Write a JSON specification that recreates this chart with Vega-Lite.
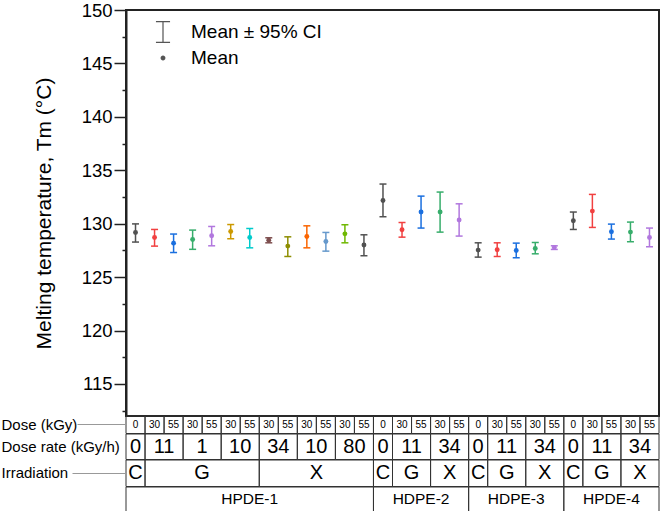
{
  "$schema": "https://vega.github.io/schema/vega-lite/v6.json",
  "padding": {"left": 1, "top": 0, "right": 0, "bottom": 0},
  "spacing": 0,
  "bounds": "flush",
  "config": {
    "font": "Liberation Sans",
    "view": {"stroke": null},
    "concat": {"spacing": 0},
    "axis": {"labelFont": "Liberation Sans", "titleFont": "Liberation Sans", "grid": false}
  },
  "datasets": {
    "pts": [
      {"slot": 1, "grp": "HPDE-1", "irr": "C", "rate": "0", "dose": "0", "k": 1, "m": 129.18, "lo": 128.28, "hi": 129.98},
      {"slot": 2, "grp": "HPDE-1", "irr": "G", "rate": "11", "dose": "30", "k": 2, "m": 128.71, "lo": 127.9, "hi": 129.46},
      {"slot": 3, "grp": "HPDE-1", "irr": "G", "rate": "11", "dose": "55", "k": 3, "m": 128.18, "lo": 127.3, "hi": 129.03},
      {"slot": 4, "grp": "HPDE-1", "irr": "G", "rate": "1", "dose": "30", "k": 4, "m": 128.52, "lo": 127.6, "hi": 129.4},
      {"slot": 5, "grp": "HPDE-1", "irr": "G", "rate": "1", "dose": "55", "k": 5, "m": 128.87, "lo": 127.93, "hi": 129.74},
      {"slot": 6, "grp": "HPDE-1", "irr": "G", "rate": "10", "dose": "30", "k": 6, "m": 129.27, "lo": 128.59, "hi": 129.92},
      {"slot": 7, "grp": "HPDE-1", "irr": "G", "rate": "10", "dose": "55", "k": 7, "m": 128.71, "lo": 127.74, "hi": 129.55},
      {"slot": 8, "grp": "HPDE-1", "irr": "X", "rate": "34", "dose": "30", "k": 8, "m": 128.46, "lo": 128.21, "hi": 128.68},
      {"slot": 9, "grp": "HPDE-1", "irr": "X", "rate": "34", "dose": "55", "k": 9, "m": 127.9, "lo": 126.93, "hi": 128.77},
      {"slot": 10, "grp": "HPDE-1", "irr": "X", "rate": "10", "dose": "30", "k": 10, "m": 128.8, "lo": 127.74, "hi": 129.8},
      {"slot": 11, "grp": "HPDE-1", "irr": "X", "rate": "10", "dose": "55", "k": 11, "m": 128.33, "lo": 127.43, "hi": 129.18},
      {"slot": 12, "grp": "HPDE-1", "irr": "X", "rate": "80", "dose": "30", "k": 12, "m": 129.05, "lo": 128.21, "hi": 129.9},
      {"slot": 13, "grp": "HPDE-1", "irr": "X", "rate": "80", "dose": "55", "k": 1, "m": 128.0, "lo": 127.0, "hi": 128.96},
      {"slot": 14, "grp": "HDPE-2", "irr": "C", "rate": "0", "dose": "0", "k": 1, "m": 132.17, "lo": 130.65, "hi": 133.71},
      {"slot": 15, "grp": "HDPE-2", "irr": "G", "rate": "11", "dose": "30", "k": 2, "m": 129.43, "lo": 128.74, "hi": 130.11},
      {"slot": 16, "grp": "HDPE-2", "irr": "G", "rate": "11", "dose": "55", "k": 3, "m": 131.09, "lo": 129.59, "hi": 132.58},
      {"slot": 17, "grp": "HDPE-2", "irr": "X", "rate": "34", "dose": "30", "k": 4, "m": 131.09, "lo": 129.21, "hi": 132.96},
      {"slot": 18, "grp": "HDPE-2", "irr": "X", "rate": "34", "dose": "55", "k": 5, "m": 130.34, "lo": 128.84, "hi": 131.86},
      {"slot": 19, "grp": "HDPE-3", "irr": "C", "rate": "0", "dose": "0", "k": 1, "m": 127.53, "lo": 126.87, "hi": 128.21},
      {"slot": 20, "grp": "HDPE-3", "irr": "G", "rate": "11", "dose": "30", "k": 2, "m": 127.56, "lo": 126.93, "hi": 128.21},
      {"slot": 21, "grp": "HDPE-3", "irr": "G", "rate": "11", "dose": "55", "k": 3, "m": 127.49, "lo": 126.81, "hi": 128.18},
      {"slot": 22, "grp": "HDPE-3", "irr": "X", "rate": "34", "dose": "30", "k": 4, "m": 127.68, "lo": 127.18, "hi": 128.24},
      {"slot": 23, "grp": "HDPE-3", "irr": "X", "rate": "34", "dose": "55", "k": 5, "m": 127.77, "lo": 127.59, "hi": 127.93},
      {"slot": 24, "grp": "HPDE-4", "irr": "C", "rate": "0", "dose": "0", "k": 1, "m": 130.27, "lo": 129.46, "hi": 131.09},
      {"slot": 25, "grp": "HPDE-4", "irr": "G", "rate": "11", "dose": "30", "k": 2, "m": 131.18, "lo": 129.65, "hi": 132.74},
      {"slot": 26, "grp": "HPDE-4", "irr": "G", "rate": "11", "dose": "55", "k": 3, "m": 129.24, "lo": 128.56, "hi": 129.96},
      {"slot": 27, "grp": "HPDE-4", "irr": "X", "rate": "34", "dose": "30", "k": 4, "m": 129.21, "lo": 128.31, "hi": 130.15},
      {"slot": 28, "grp": "HPDE-4", "irr": "X", "rate": "34", "dose": "55", "k": 5, "m": 128.71, "lo": 127.84, "hi": 129.59}
    ]
  },
  "vconcat": [
    {
      "width": 533,
      "height": 406,
      "view": {"stroke": "#222", "strokeWidth": 2},
      "data": {"name": "pts"},
      "resolve": {"axis": {"y": "independent"}},
      "layer": [
        {
          "mark": {"type": "rule", "strokeWidth": 1.5},
          "encoding": {
            "x": {"field": "slot", "type": "quantitative", "scale": {"domain": [0.5, 28.5], "nice": false, "zero": false}, "axis": null},
            "y": {"field": "lo", "type": "quantitative", "scale": {"domain": [112, 150], "nice": false, "zero": false},
              "axis": {"orient": "left", "values": [115, 120, 125, 130, 135, 140, 145, 150], "title": "Melting temperature, Tm (°C)",
                "domainColor": "#222", "domainWidth": 2, "tickColor": "#222", "tickWidth": 1.5, "tickSize": 12, "labelPadding": 2,
                "labelFontSize": 18.5, "labelColor": "#000", "titleFontSize": 21, "titleFontWeight": "normal", "titleColor": "#000", "titlePadding": 27}},
            "y2": {"field": "hi"},
            "color": {"field": "k", "type": "nominal", "scale": {"domain": [1, 2, 3, 4, 5, 6, 7, 8, 9, 10, 11, 12], "range": ["#515151", "#F14040", "#1A6FDF", "#37AD6B", "#B177DE", "#CC9900", "#00CBCC", "#7D4E4E", "#8E8E00", "#FB6501", "#6699CC", "#6FB802"]}, "legend": null}
          }
        },
        {
          "mark": {"type": "tick", "orient": "horizontal", "size": 7, "thickness": 1.5, "opacity": 1},
          "encoding": {
            "x": {"field": "slot", "type": "quantitative"},
            "y": {"field": "lo", "type": "quantitative",
              "axis": {"orient": "left", "values": [112.5, 117.5, 122.5, 127.5, 132.5, 137.5, 142.5, 147.5], "labels": false, "domain": false, "tickColor": "#222", "tickWidth": 1.5, "tickSize": 4, "title": null}},
            "color": {"field": "k", "type": "nominal", "legend": null}
          }
        },
        {
          "mark": {"type": "tick", "orient": "horizontal", "size": 7, "thickness": 1.5, "opacity": 1},
          "encoding": {
            "x": {"field": "slot", "type": "quantitative"},
            "y": {"field": "hi", "type": "quantitative", "axis": null},
            "color": {"field": "k", "type": "nominal", "legend": null}
          }
        },
        {
          "mark": {"type": "circle", "size": 24, "opacity": 1},
          "encoding": {
            "x": {"field": "slot", "type": "quantitative"},
            "y": {"field": "m", "type": "quantitative", "axis": null},
            "color": {"field": "k", "type": "nominal", "legend": null}
          }
        },
        {
          "data": {"values": [{"item": "Mean ± 95% CI"}, {"item": "Mean"}]},
          "mark": {"type": "point", "filled": true, "color": "#555"},
          "encoding": {
            "x": {"field": "slot", "type": "quantitative"},
            "shape": {"field": "item", "type": "nominal",
              "scale": {"domain": ["Mean ± 95% CI", "Mean"], "range": [
                "M-0.64,-1H0.64V-0.88H-0.64ZM-0.055,-0.88H0.055V0.88H-0.055ZM-0.64,0.88H0.64V1H-0.64Z",
                "M-0.22,0A0.22,0.22,0,1,1,0.22,0A0.22,0.22,0,1,1,-0.22,0Z"]},
              "legend": {"orient": "none", "legendX": 26, "legendY": 11, "title": null, "padding": 0, "symbolSize": 484, "symbolStrokeWidth": 0,
                "symbolFillColor": "#555", "symbolStrokeColor": "#555", "symbolOpacity": 1, "labelFontSize": 19, "labelColor": "#000", "labelOffset": 17, "rowPadding": 4, "labelLimit": 300}}
          }
        }
      ]
    },
    {
      "width": 533,
      "height": 17.5,
      "data": {"name": "pts"},
      "transform": [{"bin": {"step": 1, "extent": [0.5, 28.5], "nice": false}, "field": "slot", "as": ["s0", "s1"]}],
      "layer": [
        {
          "mark": {"type": "rect", "filled": false, "color": "#333", "strokeWidth": 1},
          "encoding": {
            "x": {"field": "s0", "type": "quantitative", "scale": {"domain": [0.5, 28.5], "nice": false, "zero": false}, "axis": null},
            "x2": {"field": "s1"},
            "y": {"datum": "Dose (kGy)", "type": "nominal", "scale": {"paddingInner": 0, "paddingOuter": 0},
              "axis": {"title": null, "domain": false, "tickSize": 49, "tickColor": "#999", "tickWidth": 1, "labelPadding": 76, "labelAlign": "left", "labelBaseline": "middle", "labelFontSize": 15, "labelColor": "#000", "bandPosition": 0.5}}
          }
        },
        {
          "mark": {"type": "text", "fontSize": 10, "color": "#000"},
          "encoding": {
            "x": {"field": "slot", "type": "quantitative"},
            "y": {"datum": "Dose (kGy)", "type": "nominal"},
            "text": {"field": "dose"}
          }
        }
      ]
    },
    {
      "width": 533,
      "height": 25.5,
      "data": {"name": "pts"},
      "transform": [
        {"bin": {"step": 1, "extent": [0.5, 28.5], "nice": false}, "field": "slot", "as": ["s0", "s1"]},
        {"aggregate": [{"op": "min", "field": "s0", "as": "a"}, {"op": "max", "field": "s1", "as": "b"}, {"op": "mean", "field": "slot", "as": "c"}], "groupby": ["grp", "irr", "rate"]}
      ],
      "layer": [
        {
          "mark": {"type": "rect", "filled": false, "color": "#333", "strokeWidth": 1},
          "encoding": {
            "x": {"field": "a", "type": "quantitative", "scale": {"domain": [0.5, 28.5], "nice": false, "zero": false}, "axis": null},
            "x2": {"field": "b"},
            "y": {"datum": "Dose rate (kGy/h)", "type": "nominal", "scale": {"paddingInner": 0, "paddingOuter": 0},
              "axis": {"title": null, "domain": false, "tickSize": 49, "tickColor": "transparent", "tickWidth": 1, "labelPadding": 76, "labelAlign": "left", "labelBaseline": "middle", "labelFontSize": 15, "labelColor": "#000", "bandPosition": 0.5}}
          }
        },
        {
          "mark": {"type": "text", "fontSize": 20, "color": "#000"},
          "encoding": {
            "x": {"field": "c", "type": "quantitative"},
            "y": {"datum": "Dose rate (kGy/h)", "type": "nominal"},
            "text": {"field": "rate"}
          }
        }
      ]
    },
    {
      "width": 533,
      "height": 26.5,
      "data": {"name": "pts"},
      "transform": [
        {"bin": {"step": 1, "extent": [0.5, 28.5], "nice": false}, "field": "slot", "as": ["s0", "s1"]},
        {"aggregate": [{"op": "min", "field": "s0", "as": "a"}, {"op": "max", "field": "s1", "as": "b"}, {"op": "mean", "field": "slot", "as": "c"}], "groupby": ["grp", "irr"]}
      ],
      "layer": [
        {
          "mark": {"type": "rect", "filled": false, "color": "#333", "strokeWidth": 1},
          "encoding": {
            "x": {"field": "a", "type": "quantitative", "scale": {"domain": [0.5, 28.5], "nice": false, "zero": false}, "axis": null},
            "x2": {"field": "b"},
            "y": {"datum": "Irradiation", "type": "nominal", "scale": {"paddingInner": 0, "paddingOuter": 0},
              "axis": {"title": null, "domain": false, "tickSize": 54, "tickColor": "#999", "tickWidth": 1, "labelPadding": 71, "labelAlign": "left", "labelBaseline": "middle", "labelFontSize": 15, "labelColor": "#000", "bandPosition": 0.5}}
          }
        },
        {
          "mark": {"type": "text", "fontSize": 20, "color": "#000"},
          "encoding": {
            "x": {"field": "c", "type": "quantitative"},
            "y": {"datum": "Irradiation", "type": "nominal"},
            "text": {"field": "irr"}
          }
        }
      ]
    },
    {
      "width": 533,
      "height": 24.5,
      "data": {"name": "pts"},
      "transform": [
        {"bin": {"step": 1, "extent": [0.5, 28.5], "nice": false}, "field": "slot", "as": ["s0", "s1"]},
        {"aggregate": [{"op": "min", "field": "s0", "as": "a"}, {"op": "max", "field": "s1", "as": "b"}, {"op": "mean", "field": "slot", "as": "c"}], "groupby": ["grp"]}
      ],
      "layer": [
        {
          "mark": {"type": "rect", "filled": false, "color": "#333", "strokeWidth": 1},
          "encoding": {
            "x": {"field": "a", "type": "quantitative", "scale": {"domain": [0.5, 28.5], "nice": false, "zero": false}, "axis": null},
            "x2": {"field": "b"},
            "y": {"datum": "Sample", "type": "nominal", "scale": {"paddingInner": 0, "paddingOuter": 0}, "axis": null}
          }
        },
        {
          "mark": {"type": "text", "fontSize": 15.5, "color": "#000"},
          "encoding": {
            "x": {"field": "c", "type": "quantitative"},
            "y": {"datum": "Sample", "type": "nominal"},
            "text": {"field": "grp"}
          }
        }
      ]
    }
  ]
}
